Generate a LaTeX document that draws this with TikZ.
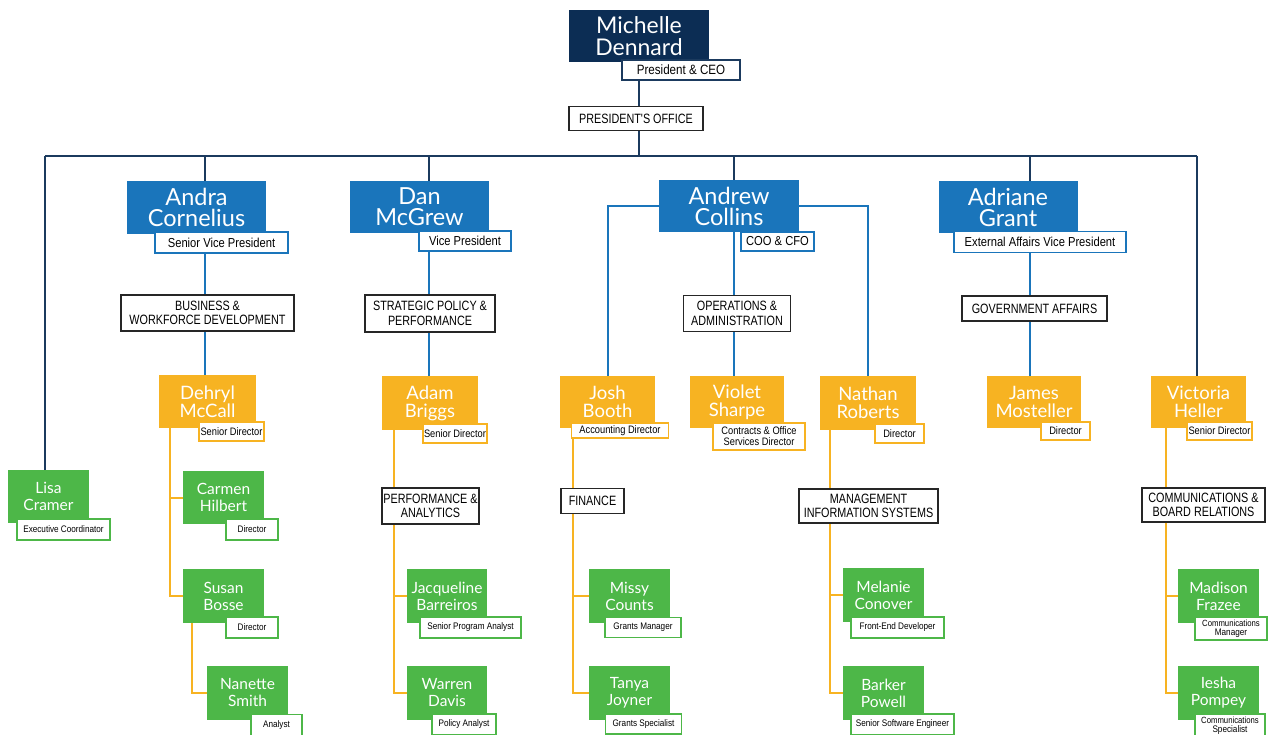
\documentclass[tikz,border=0pt]{standalone}
\usepackage{fontspec}
\setmainfont{Lato}
\newfontfamily\lab[FakeStretch=0.86]{Liberation Sans}
\newfontfamily\deptfont[FakeStretch=0.8]{Liberation Sans}
\definecolor{navy}{HTML}{0C2D54}
\definecolor{busnavy}{HTML}{1B3A5E}
\definecolor{vpblue}{HTML}{1A75BB}
\definecolor{gold}{HTML}{F7B322}
\definecolor{leaf}{HTML}{4DB748}
\pgfdeclarelayer{bg}
\pgfsetlayers{bg,main}
\tikzset{
  namebox/.style={rectangle, inner sep=0pt, align=center, text=white},
  ceo/.style={namebox, fill=navy, font=\fontsize{23}{22}\selectfont},
  vp/.style={namebox, fill=vpblue, font=\fontsize{23.5}{21}\selectfont},
  dir/.style={namebox, fill=gold, font=\fontsize{18.5}{18}\selectfont},
  staff/.style={namebox, fill=leaf, font=\fontsize{15.5}{17}\selectfont},
  tag/.style={rectangle, fill=white, draw, line width=1.4pt, inner sep=0pt, align=center, text=black},
  navytag/.style={tag, draw=busnavy, font=\lab\fontsize{13.5}{14}\selectfont},
  bluetag/.style={tag, draw=vpblue, font=\lab\fontsize{13}{14}\selectfont},
  goldtag/.style={tag, draw=gold, font=\lab\fontsize{10.8}{11}\selectfont},
  leaftag/.style={tag, draw=leaf, font=\lab\fontsize{9.5}{9.5}\selectfont},
  dept/.style={rectangle, fill=white, draw=black!85, line width=1.8pt, inner sep=0pt, align=center, text=black, font=\deptfont\fontsize{13.5}{14.5}\selectfont},
  navyline/.style={draw=busnavy, line width=2.2pt},
  blueline/.style={draw=vpblue, line width=2pt},
  goldline/.style={draw=gold, line width=2pt},
}
\newcommand{\bx}[6]{\node[#1, minimum width=#4pt, minimum height=#5pt] (#2) at (#3) {#6};}
\begin{document}
\begin{tikzpicture}[x=1pt,y=-1pt]
\useasboundingbox (0,0) rectangle (1273,735);
% top
\bx{ceo}{michelle}{639,36}{140}{52}{Michelle\\Dennard}
\bx{navytag}{michelleL}{681,70}{118}{20}{President \& CEO}
\bx{dept}{po}{636,118.5}{134}{24}{PRESIDENT'S OFFICE}
% VPs
\bx{vp}{andra}{196.5,207.5}{139}{53}{Andra\\Cornelius}
\bx{bluetag}{andraL}{221.5,242.5}{133}{21}{Senior Vice President}
\bx{vp}{dan}{419.5,207}{139}{52}{Dan\\McGrew}
\bx{bluetag}{danL}{465,241}{92}{20}{Vice President}
\bx{vp}{andrew}{729,206}{140}{52}{Andrew\\Collins}
\bx{bluetag}{andrewL}{777.5,241.5}{73}{19}{COO \& CFO}
\bx{vp}{adriane}{1008,207}{139}{52}{Adriane\\Grant}
\bx{bluetag}{adrianeL}{1040,242}{172}{21}{External Affairs Vice President}
% departments
\bx{dept}{biz}{207.5,313}{173}{36}{BUSINESS \&\\WORKFORCE DEVELOPMENT}
\bx{dept}{strat}{430,313.5}{130}{37}{STRATEGIC POLICY \&\\PERFORMANCE}
\bx{dept}{ops}{737,313.5}{107}{36}{OPERATIONS \&\\ADMINISTRATION}
\bx{dept}{gov}{1034.5,308.5}{145}{25}{GOVERNMENT AFFAIRS}
% directors
\bx{dir}{dehryl}{207.5,401.5}{97}{53}{Dehryl\\McCall}
\bx{goldtag}{dehrylL}{231.5,431.5}{65}{19}{Senior Director}
\bx{dir}{adam}{430,403}{96}{54}{Adam\\Briggs}
\bx{goldtag}{adamL}{455,433.5}{64}{19}{Senior Director}
\bx{dir}{josh}{607.5,402}{95}{52}{Josh\\Booth}
\bx{goldtag}{joshL}{620,430.5}{97}{15}{Accounting Director}
\bx{dir}{violet}{737,402}{94}{52}{Violet\\Sharpe}
\bx{goldtag}{violetL}{759,436.5}{92}{27}{Contracts \& Office\\Services Director}
\bx{dir}{nathan}{868,403}{96}{54}{Nathan\\Roberts}
\bx{goldtag}{nathanL}{899.5,433.5}{49}{19}{Director}
\bx{dir}{james}{1034,402}{94}{52}{James\\Mosteller}
\bx{goldtag}{jamesL}{1065.5,431}{49}{18}{Director}
\bx{dir}{victoria}{1198.5,402}{95}{52}{Victoria\\Heller}
\bx{goldtag}{victoriaL}{1219.5,431}{65}{18}{Senior Director}
% staff
\bx{staff}{lisa}{48.5,496.5}{81}{53}{Lisa\\Cramer}
\bx{leaftag}{lisaL}{63.5,529.5}{93}{21}{Executive Coordinator}
\bx{staff}{carmen}{223.5,497.5}{81}{53}{Carmen\\Hilbert}
\bx{leaftag}{carmenL}{252,529.5}{52}{21}{Director}
\bx{staff}{susan}{223.5,596}{81}{54}{Susan\\Bosse}
\bx{leaftag}{susanL}{252,627.5}{52}{21}{Director}
\bx{staff}{nanette}{247.5,693}{81}{54}{Nanette\\Smith}
\bx{leaftag}{nanetteL}{276.5,725}{51}{21}{Analyst}
\bx{dept}{perf}{430.5,506}{97}{36}{PERFORMANCE \&\\ANALYTICS}
\bx{staff}{jacq}{447,596}{80}{54}{Jacqueline\\Barreiros}
\bx{leaftag}{jacqL}{470.5,627.5}{101}{21}{Senior Program Analyst}
\bx{staff}{warren}{447,693}{80}{54}{Warren\\Davis}
\bx{leaftag}{warrenL}{464,724.5}{64}{21}{Policy Analyst}
\bx{dept}{finance}{592.5,501}{63}{25}{FINANCE}
\bx{staff}{missy}{629.5,596}{81}{54}{Missy\\Counts}
\bx{leaftag}{missyL}{643,627.5}{76}{20}{Grants Manager}
\bx{staff}{tanya}{629.5,693}{81}{54}{Tanya\\Joyner}
\bx{leaftag}{tanyaL}{643.5,724}{76}{20}{Grants Specialist}
\bx{dept}{mis}{868.5,506}{139}{34}{MANAGEMENT\\INFORMATION SYSTEMS}
\bx{staff}{melanie}{883.5,595}{81}{54}{Melanie\\Conover}
\bx{leaftag}{melanieL}{897.5,627.5}{93}{21}{Front-End Developer}
\bx{staff}{barker}{883.5,693}{81}{54}{Barker\\Powell}
\bx{leaftag}{barkerL}{902.5,724.5}{103}{21}{Senior Software Engineer}
\bx{dept}{comms}{1203.5,505}{123}{34}{COMMUNICATIONS \&\\BOARD RELATIONS}
\bx{staff}{madison}{1218.5,596}{81}{54}{Madison\\Frazee}
\bx{leaftag}{madisonL}{1231,628.5}{72}{23}{\fontsize{9}{8.5}\selectfont Communications\\Manager}
\bx{staff}{iesha}{1218.5,693}{81}{54}{Iesha\\Pompey}
\bx{leaftag}{ieshaL}{1230,725.5}{70}{23}{\fontsize{9}{8.5}\selectfont Communications\\Specialist}
% connectors
\coordinate (busL) at (45,156);
\coordinate (busR) at (1197,156);
\coordinate (cA) at (205,156);
\coordinate (cD) at (429,156);
\coordinate (cW) at (734,156);
\coordinate (cG) at (1030,156);
\coordinate (dx) at (170,0);
\coordinate (sx) at (192,0);
\coordinate (ax) at (394,0);
\coordinate (jx) at (573,0);
\coordinate (nx) at (830,0);
\coordinate (vx) at (1166,0);
\begin{pgfonlayer}{bg}
\draw[navyline] (michelle.south |- michelleL.south) -- (michelle.south |- po.north);
\draw[navyline] (michelle.south |- po.south) -- (michelle.south |- busL);
\draw[navyline] (busL) -- (busR);
\draw[navyline] (busL) -- (busL |- lisa.north);
\draw[navyline] (busR) -- (busR |- victoria.north);
\draw[navyline] (cA) -- (cA |- andra.north);
\draw[navyline] (cD) -- (cD |- dan.north);
\draw[navyline] (cW) -- (cW |- andrew.north);
\draw[navyline] (cG) -- (cG |- adriane.north);
\draw[blueline] (cA |- andraL.south) -- (cA |- biz.north);
\draw[blueline] (cA |- biz.south) -- (cA |- dehryl.north);
\draw[blueline] (cD |- danL.south) -- (cD |- strat.north);
\draw[blueline] (cD |- strat.south) -- (cD |- adam.north);
\draw[blueline] (andrew.west) -| (josh.north);
\draw[blueline] (andrew.east) -| (nathan.north);
\draw[blueline] (cW |- andrew.south) -- (cW |- ops.north);
\draw[blueline] (cW |- ops.south) -- (cW |- violet.north);
\draw[blueline] (cG |- adrianeL.south) -- (cG |- gov.north);
\draw[blueline] (cG |- gov.south) -- (cG |- james.north);
\draw[goldline] (dx |- dehryl.south) |- (carmen.west);
\draw[goldline] (dx |- dehryl.south) |- (susan.west);
\draw[goldline] (sx |- susan.south) |- (nanette.west);
\draw[goldline] (ax |- adam.south) |- (jacq.west);
\draw[goldline] (ax |- adam.south) |- (warren.west);
\draw[goldline] (jx |- josh.south) |- (missy.west);
\draw[goldline] (jx |- josh.south) |- (tanya.west);
\draw[goldline] (nx |- nathan.south) |- (melanie.west);
\draw[goldline] (nx |- nathan.south) |- (barker.west);
\draw[goldline] (vx |- victoria.south) |- (madison.west);
\draw[goldline] (vx |- victoria.south) |- (iesha.west);
\end{pgfonlayer}
\end{tikzpicture}
\end{document}
